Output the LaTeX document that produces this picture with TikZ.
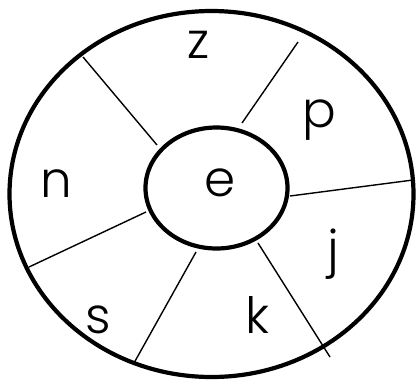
\documentclass[tikz,border=0pt]{standalone}
\usepackage{fontspec}
\setmainfont{Poppins}[UprightFont=* Light]
\usepackage{tikz}
\usetikzlibrary{shapes.geometric}
\tikzset{
  ring/.style={ellipse, draw=black, line width=4.2pt, inner sep=0pt},
  spoke/.style={line width=1.4pt, draw=black},
  lettr/.style={anchor=base, inner sep=0pt, font=\fontsize{50}{50}\selectfont},
}

\begin{document}
\begin{tikzpicture}[x=1pt, y=-1pt]
    \useasboundingbox (0,0) rectangle (417,384);
    \node[ring, minimum width=404pt, minimum height=366pt] (outer) at (211.5,194) {};
    \node[ring, minimum width=142pt, minimum height=121pt] (inner) at (216.5,188) {};

    % spoke ends
    \coordinate (a1) at (83,57);   \coordinate (a2) at (157,145);
    \coordinate (b1) at (298,42);  \coordinate (b2) at (242,123);
    \coordinate (c1) at (413,180); \coordinate (c2) at (290,196);
    \coordinate (d1) at (330,357); \coordinate (d2) at (258,243);
    \coordinate (e1) at (134,363); \coordinate (e2) at (196,252);
    \coordinate (f1) at (29,267);  \coordinate (f2) at (146,212);

    \draw[spoke] (a1) -- (a2);
    \draw[spoke] (b1) -- (b2);
    \draw[spoke] (c1) -- (c2);
    \draw[spoke] (d1) -- (d2);
    \draw[spoke] (e1) -- (e2);
    \draw[spoke] (f1) -- (f2);

    \node[lettr] (le) at (220,196) {e};
    \node[lettr] (lz) at (199,58) {z};
    \node[lettr] (lp) at (319,127) {p};
    \node[lettr] (lj) at (333,266) {j};
    \node[lettr] (lk) at (257,333) {k};
    \node[lettr] (ls) at (98,333) {s};
    \node[lettr] (ln) at (56,197) {n};
\end{tikzpicture}
\end{document}
